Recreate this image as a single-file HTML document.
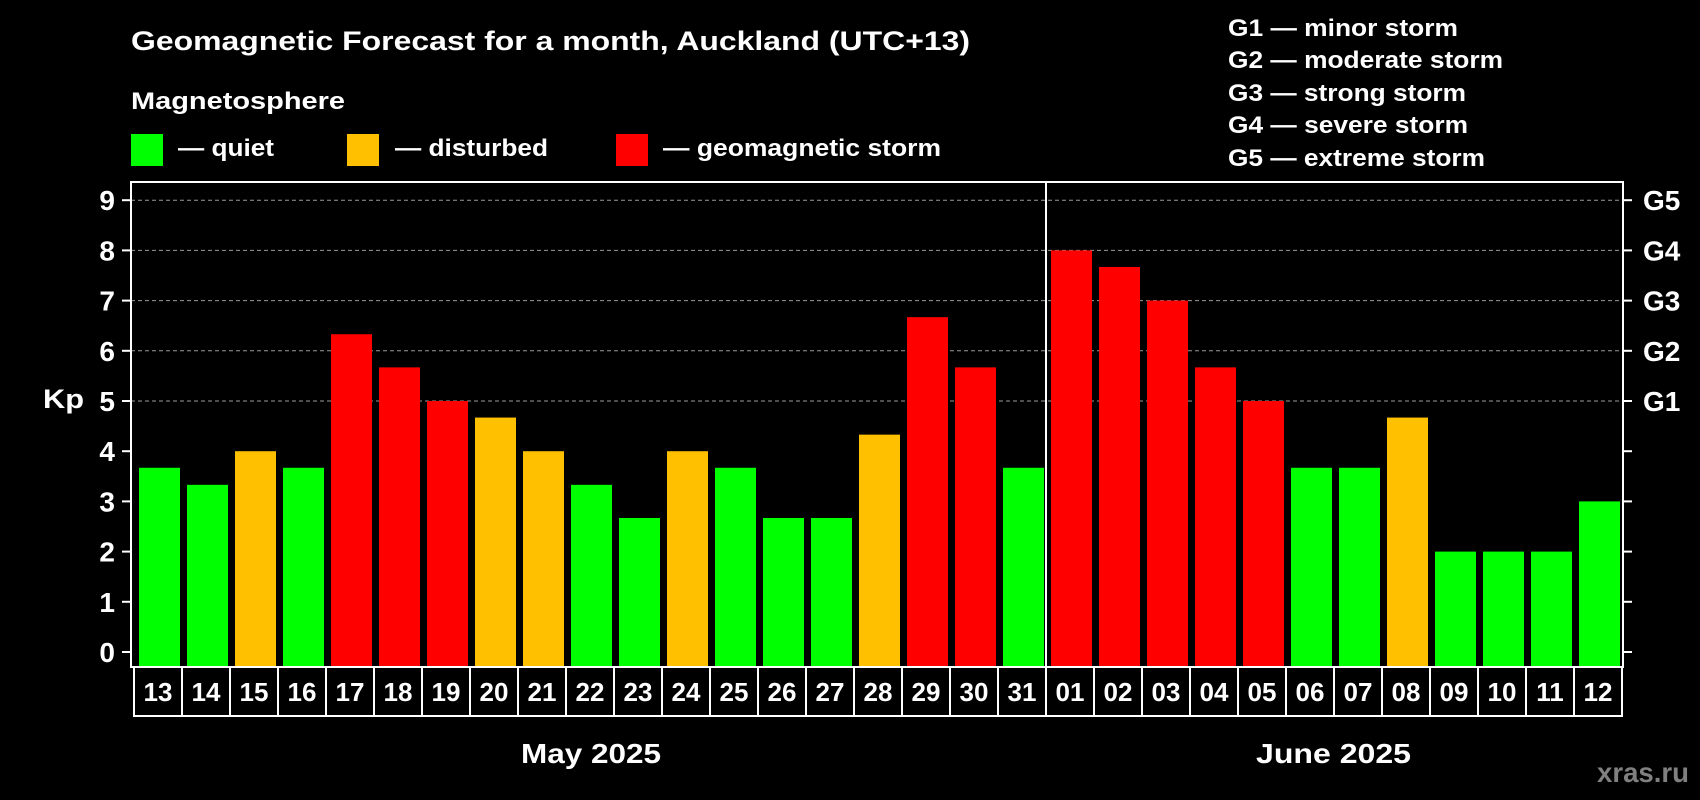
<!DOCTYPE html>
<html><head><meta charset="utf-8"><style>
html,body{margin:0;padding:0;background:#000;width:1700px;height:800px;overflow:hidden}
svg{display:block;font-family:"Liberation Sans",Arial,sans-serif;font-weight:bold}
</style></head><body>
<svg id="chart" width="1700" height="800" viewBox="0 0 1700 800">
<rect width="1700" height="800" fill="#000"/>
<text x="131" y="50" fill="#fff" font-size="27" textLength="839" lengthAdjust="spacingAndGlyphs">Geomagnetic Forecast for a month, Auckland (UTC+13)</text>
<text x="131" y="109" fill="#fff" font-size="24" textLength="214" lengthAdjust="spacingAndGlyphs">Magnetosphere</text>
<g><rect x="131" y="134" width="32" height="32" fill="#00ff00"/><text x="178" y="156" fill="#fff" font-size="24" textLength="96" lengthAdjust="spacingAndGlyphs">— quiet</text></g>
<g><rect x="347" y="134" width="32" height="32" fill="#ffc000"/><text x="395" y="156" fill="#fff" font-size="24" textLength="153" lengthAdjust="spacingAndGlyphs">— disturbed</text></g>
<g><rect x="616" y="134" width="32" height="32" fill="#ff0000"/><text x="663" y="156" fill="#fff" font-size="24" textLength="278" lengthAdjust="spacingAndGlyphs">— geomagnetic storm</text></g>
<g fill="#fff" font-size="24">
<text x="1228" y="36" textLength="230" lengthAdjust="spacingAndGlyphs">G1 — minor storm</text>
<text x="1228" y="68" textLength="275" lengthAdjust="spacingAndGlyphs">G2 — moderate storm</text>
<text x="1228" y="101" textLength="238" lengthAdjust="spacingAndGlyphs">G3 — strong storm</text>
<text x="1228" y="133" textLength="240" lengthAdjust="spacingAndGlyphs">G4 — severe storm</text>
<text x="1228" y="166" textLength="257" lengthAdjust="spacingAndGlyphs">G5 — extreme storm</text>
</g>
<text x="43" y="408" fill="#fff" font-size="27" textLength="41" lengthAdjust="spacingAndGlyphs">Kp</text>
<text x="521" y="763" fill="#fff" font-size="28" textLength="140" lengthAdjust="spacingAndGlyphs">May 2025</text>
<text x="1256" y="763" fill="#fff" font-size="28" textLength="155" lengthAdjust="spacingAndGlyphs">June 2025</text>
<text x="1597" y="782" fill="#808080" font-size="28" textLength="92" lengthAdjust="spacingAndGlyphs">xras.ru</text>
<g id="plot"></g>
</svg>
<script>
const days = ["13","14","15","16","17","18","19","20","21","22","23","24","25","26","27","28","29","30","31","01","02","03","04","05","06","07","08","09","10","11","12"];
const kpValues = [3.67,3.33,4,3.67,6.33,5.67,5,4.67,4,3.33,2.67,4,3.67,2.67,2.67,4.33,6.67,5.67,3.67,8,7.67,7,5.67,5,3.67,3.67,4.67,2,2,2,3];
const yTicks = [0,1,2,3,4,5,6,7,8,9];
const stormLabels = ["G1","G2","G3","G4","G5"];
const stormLevels = [5,6,7,8,9];
const monthBreakIndex = 19;

(function(){
const NS = "http://www.w3.org/2000/svg";
const plot = document.getElementById('plot');
const pLeft = 131, pRight = 1623, pTop = 182, pBottom = 667;
const y0 = 652, unit = 50.2;
const cellLeft = 134, cellW = (pRight - 1 - cellLeft) / days.length;
const y = v => y0 - v * unit;
const x = i => cellLeft + i * cellW;
function mk(tag, attrs){const e=document.createElementNS(NS,tag);for(const k in attrs)e.setAttribute(k,attrs[k]);plot.appendChild(e);return e;}
function color(v){return v>=5?"#ff0000":(v>=4?"#ffc000":"#00ff00");}

yTicks.forEach(t=>{
  if(t>=5){const g=mk('line',{x1:pLeft,x2:pRight,y1:y(t),y2:y(t),stroke:'#9a9a9a','stroke-width':1,'stroke-dasharray':'4,3'});
  
  }
  const tk=mk('line',{x1:pLeft-9,x2:pLeft,y1:y(t),y2:y(t),stroke:'#fff','stroke-width':2});
  
  
  const tr=mk('line',{x1:pRight,x2:pRight+9,y1:y(t),y2:y(t),stroke:'#fff','stroke-width':2});
  
  
  const lb=mk('text',{x:pLeft-16,y:y(t)+10,fill:'#fff','font-size':28,'text-anchor':'end'});
  lb.textContent=t;
  
  
});
stormLabels.forEach((s,i)=>{
  const lb=mk('text',{x:pRight+20,y:y(stormLevels[i])+10,fill:'#fff','font-size':28});
  lb.textContent=s;
  
  
});
kpValues.forEach((v,i)=>{
  const b=mk('rect',{x:x(i)+5,y:y(v),width:cellW-7,height:pBottom-y(v),fill:color(v)});
  
  
});
const fr=mk('rect',{x:pLeft,y:pTop,width:pRight-pLeft,height:pBottom-pTop,fill:'none',stroke:'#fff','stroke-width':2});


const dv=mk('line',{x1:x(monthBreakIndex),x2:x(monthBreakIndex),y1:pTop,y2:pBottom,stroke:'#fff','stroke-width':2});


days.forEach((d,i)=>{
  const c=mk('rect',{x:x(i),y:pBottom,width:cellW,height:49,fill:'none',stroke:'#fff','stroke-width':2});
  
  
  const t=mk('text',{x:x(i)+cellW/2,y:pBottom+34,fill:'#fff','font-size':26,'text-anchor':'middle'});
  t.textContent=d;
  
  
});
})();
</script>
</body></html>
